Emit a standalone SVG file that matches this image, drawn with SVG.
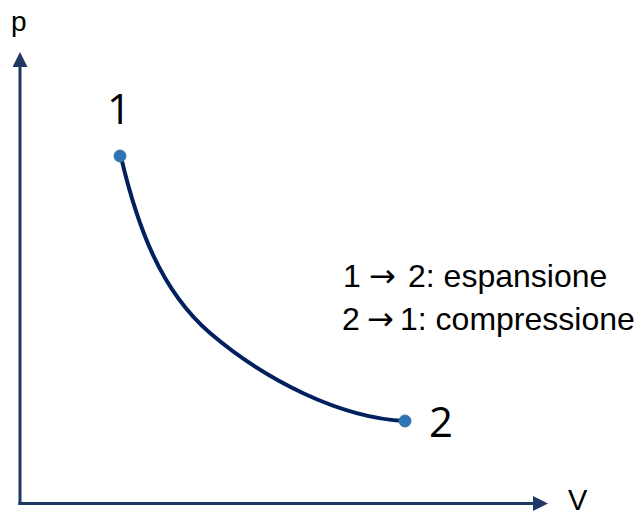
<svg xmlns="http://www.w3.org/2000/svg" width="644" height="516" viewBox="0 0 644 516">
<style>
.ax{stroke:#203864;stroke-width:3;fill:none}
.lbl{font-family:"Liberation Sans",Arial,sans-serif;fill:#000}
.arr{font-family:"DejaVu Sans",sans-serif}
.num{font-family:"Open Sans","Liberation Sans",sans-serif;font-size:42px;fill:#000}
.pt{fill:#2E75B6;stroke:#41719C;stroke-width:1}
</style>
<defs>
<marker id="ah" viewBox="0 0 10 10" refX="0" refY="5" markerWidth="5" markerHeight="5" markerUnits="strokeWidth" orient="auto">
<path d="M0,0 L10,5 L0,10 z" fill="#203864"/>
</marker>
</defs>
<g id="connectors">
<path class="ax" d="M20,505 L20,67" marker-end="url(#ah)"/>
<path class="ax" d="M18.5,503.5 L533,503.5" marker-end="url(#ah)"/>
<path d="M121,157 C137,225 160,290 210,333 C265,380 340,418 405,421" stroke="#002060" stroke-width="4" fill="none"/>
</g>
<g id="axis-p"><text class="lbl" x="11" y="31" font-size="28">p</text></g>
<g id="axis-V"><text class="lbl" x="568" y="510" font-size="29">V</text></g>
<g id="point1">
<circle class="pt" cx="120" cy="156" r="6"/>
<text class="num" x="119" y="124" text-anchor="middle">1</text>
</g>
<g id="point2">
<circle class="pt" cx="405" cy="421" r="6"/>
<text class="num" x="441" y="437" text-anchor="middle">2</text>
</g>
<g id="legend">
<text class="lbl" x="343" y="287" font-size="32">1<tspan class="arr" x="369">→</tspan><tspan x="408">2: espansione</tspan></text>
<text class="lbl" x="342" y="330" font-size="32">2<tspan class="arr" x="367">→</tspan><tspan x="400">1: compressione</tspan></text>
</g>
</svg>
